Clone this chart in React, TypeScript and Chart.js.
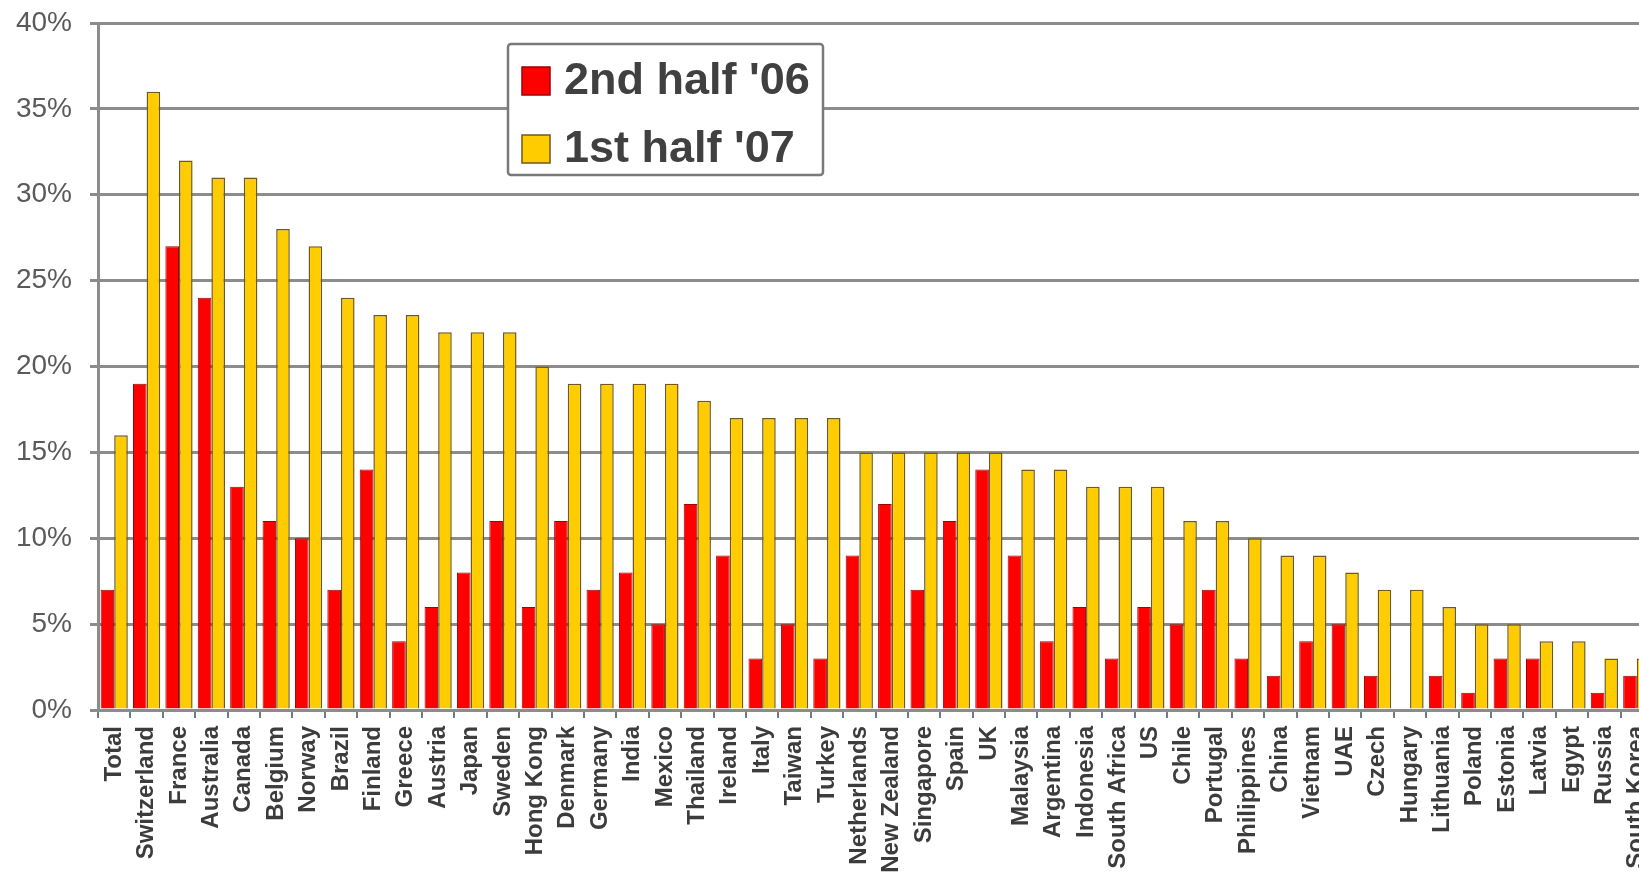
import React, { useEffect, useRef } from "react";
import { Chart, registerables } from "chart.js";

Chart.register(...registerables);

const categories = [
  "Total", "Switzerland", "France", "Australia", "Canada", "Belgium", "Norway", "Brazil",
  "Finland", "Greece", "Austria", "Japan", "Sweden", "Hong Kong", "Denmark", "Germany",
  "India", "Mexico", "Thailand", "Ireland", "Italy", "Taiwan", "Turkey", "Netherlands",
  "New Zealand", "Singapore", "Spain", "UK", "Malaysia", "Argentina", "Indonesia",
  "South Africa", "US", "Chile", "Portugal", "Philippines", "China", "Vietnam", "UAE",
  "Czech", "Hungary", "Lithuania", "Poland", "Estonia", "Latvia", "Egypt", "Russia",
  "South Korea",
];

const secondHalf06 = [
  7, 19, 27, 24, 13, 11, 10, 7, 14, 4, 6, 8, 11, 6, 11, 7, 8, 5, 12, 9, 3, 5, 3, 9,
  12, 7, 11, 14, 9, 4, 6, 3, 6, 5, 7, 3, 2, 4, 5, 2, 0, 2, 1, 3, 3, 0, 1, 2,
];

const firstHalf07 = [
  16, 36, 32, 31, 31, 28, 27, 24, 23, 23, 22, 22, 22, 20, 19, 19, 19, 19, 18, 17, 17, 17, 17, 15,
  15, 15, 15, 15, 14, 14, 13, 13, 13, 11, 11, 10, 9, 9, 8, 7, 7, 6, 5, 5, 4, 4, 3, 3,
];

const seriesLabels = ["2nd half '06", "1st half '07"];
const yTicks = [0, 5, 10, 15, 20, 25, 30, 35, 40];

const FONT = "'Liberation Sans', Arial, sans-serif";

const legendPlugin = {
  id: "boxLegend",
  afterDraw(chart: any) {
    const ctx = chart.ctx;
    const x0 = 508, y0 = 44, w = 315, h = 131;
    ctx.save();
    ctx.fillStyle = "#ffffff";
    ctx.strokeStyle = "#7a7a7a";
    ctx.lineWidth = 2.5;
    ctx.beginPath();
    ctx.roundRect(x0, y0, w, h, 3);
    ctx.fill();
    ctx.stroke();
    chart.data.datasets.forEach((ds: any, i: number) => {
      const cy = 81 + i * 68;
      ctx.fillStyle = ds.backgroundColor;
      ctx.strokeStyle = ds.borderColor;
      ctx.lineWidth = 1.5;
      ctx.fillRect(522, cy - 14, 28, 28);
      ctx.strokeRect(522, cy - 14, 28, 28);
      ctx.fillStyle = "#404040";
      ctx.font = `bold 45px ${FONT}`;
      ctx.textBaseline = "middle";
      ctx.textAlign = "left";
      ctx.fillText(ds.label, 564, cy + 1);
    });
    ctx.restore();
  },
};

export default function App() {
  const ref = useRef<HTMLCanvasElement | null>(null);

  useEffect(() => {
    if (!ref.current) return;
    const chart = new Chart(ref.current, {
      type: "bar",
      data: {
        labels: categories,
        datasets: [
          {
            label: seriesLabels[0],
            data: secondHalf06,
            backgroundColor: "#ff0000",
            borderColor: "#a00000",
            borderWidth: 1,
            categoryPercentage: 0.84,
            barPercentage: 1.0,
          },
          {
            label: seriesLabels[1],
            data: firstHalf07,
            backgroundColor: "#ffcc00",
            borderColor: "#6e5a1e",
            borderWidth: 1.5,
            categoryPercentage: 0.84,
            barPercentage: 1.0,
          },
        ],
      },
      options: {
        animation: false,
        responsive: true,
        maintainAspectRatio: false,
        layout: { padding: { top: 23, right: 7, left: 0, bottom: 0 } },
        plugins: {
          legend: { display: false },
          tooltip: { enabled: false },
        },
        scales: {
          x: {
            grid: {
              display: true,
              drawOnChartArea: false,
              drawTicks: true,
              tickLength: 8,
              color: "#6d7d8d",
              lineWidth: 2,
              offset: true,
            },
            border: { display: true, color: "#8c8c8c", width: 3 },
            ticks: {
              autoSkip: false,
              maxRotation: 90,
              minRotation: 90,
              padding: 8,
              color: "#3c3c3c",
              font: { family: FONT, size: 24, weight: "bold" },
            },
            afterFit(scale: any) {
              scale.height = 881 - 710;
              scale.paddingLeft = 0;
              scale.paddingRight = 0;
            },
          },
          y: {
            min: 0,
            max: 40,
            afterBuildTicks(scale: any) {
              scale.ticks = yTicks.map((v) => ({ value: v }));
            },
            grid: {
              color: "#8c8c8c",
              lineWidth: 3,
              drawTicks: true,
              tickLength: 8,
            },
            border: { display: true, color: "#8c8c8c", width: 3 },
            ticks: {
              padding: 18,
              color: "#5a5a5a",
              font: { family: FONT, size: 28, weight: "normal" },
              callback: (v: any) => `${v}%`,
            },
            afterFit(scale: any) {
              scale.width = 98;
              scale.paddingTop = 0;
              scale.paddingBottom = 0;
            },
          },
        },
      },
      plugins: [legendPlugin],
    });
    return () => chart.destroy();
  }, []);

  return (
    <div
      style={{
        position: "fixed",
        left: 0,
        top: 0,
        width: 1639,
        height: 881,
        overflow: "hidden",
        background: "#ffffff",
      }}
    >
      <div style={{ position: "relative", width: 1660, height: 881 }}>
        <canvas ref={ref} />
      </div>
    </div>
  );
}
